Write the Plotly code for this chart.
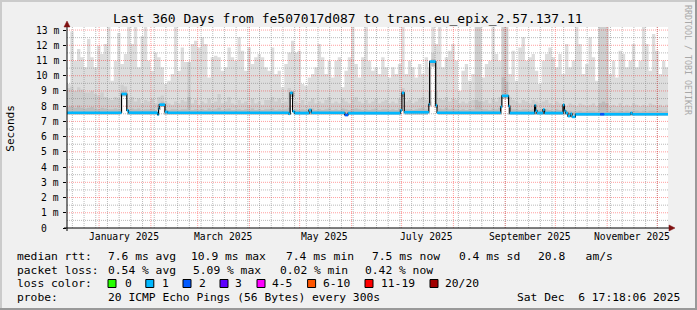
import plotly.graph_objects as go
import pandas as pd

# ---------------- data ----------------
SERIES_START = "2024-12-12 19:12"   # first smoke bin
BIN_DAYS = 2                        # width of one smoke bin
SERIES_END = "2025-12-07 09:36"     # end of the time axis

# upper envelope of all pings (ms) per 2-day bin (values above the axis top are clipped)
smoke_max = [
    9.45, 12.9, 10.99, 11.75, 11.21, 10.55, 12.41, 11.21, 10.55, 11.97,
    11.42, 12.08, 14, 9.67, 10.99, 12.8, 10.77, 11.42, 14, 12.08,
    14, 10.55, 12.6, 14, 10.99, 10.33, 11.53, 11.21, 10.55, 9.45,
    9.67, 10.11, 14, 10.33, 11.86, 10.90, 10.90, 12.08, 12.30, 11.86,
    12.52, 12.08, 9.89, 11.21, 11.32, 11.21, 10.33, 10.55, 11.86, 11.21,
    10.99, 12.52, 11.64, 10.33, 11.86, 10.77, 11.21, 11.42, 11.21, 10.55,
    10.33, 11.86, 10.11, 10.33, 9.24, 10.77, 11.53, 12.30, 11.53, 11.64,
    9.45, 9.35, 9.89, 10.11, 10.55, 12.08, 11.21, 10.11, 10.99, 9.89,
    10.99, 11.21, 9.24, 10.33, 11.21, 14, 10.77, 9.89, 11.21, 14,
    10.99, 10.33, 10.55, 10.11, 11.21, 10.55, 9.89, 10.55, 10.11, 10.77,
    14, 10.11, 10.99, 10.55, 9.89, 10.77, 10.11, 11.21, 10.55, 14,
    12.08, 14, 10.55, 11.21, 11.64, 12.08, 10.99, 9.02, 10.33, 10.77,
    9.67, 10.11, 14, 14, 9.89, 10.77, 10.99, 14, 11.42, 10.99,
    14, 14, 10.11, 11.64, 9.67, 11.86, 12.52, 10.99, 11.21, 11.42,
    10.33, 9.45, 10.99, 11.42, 11.86, 11.21, 10.55, 11.42, 10.11, 12.08,
    10.55, 10.99, 14, 12.08, 10.11, 10.77, 12.52, 11.21, 9.67, 14,
    14, 14, 10.11, 10.99, 9.89, 11.64, 11.42, 10.55, 10.99, 12.08,
    10.55, 10.99, 14, 12.08, 10.33, 12.74, 11.64, 10.11, 10.99, 10.55,
]

# denser part of the smoke (ms)
smoke_mid = [
    9.2, 9.3, 9.0, 9.25, 9.1, 8.9, 8.9, 9.0, 8.8, 8.7,
    8.9, 8.6, 8.5, 8.4, 8.6, 8.5, 9.4, 9.3, 8.4, 8.6,
    8.3, 8.5, 8.2, 8.4, 8.3, 8.5, 8.2, 8.6, 8.7, 8.3,
    8.2, 8.1, 8.3, 8.2, 8.4, 8.3, 10.9, 8.2, 8.4, 8.1,
    8.3, 8.2, 8.5, 8.2, 8.3, 8.8, 8.2, 8.3, 8.6, 8.2,
    8.1, 8.4, 8.2, 8.3, 8.1, 8.5, 8.2, 8.3, 8.1, 8.4,
    8.4, 8.6, 8.3, 8.5, 8.2, 8.3, 9.2, 9.0, 8.3, 8.2,
    8.4, 8.1, 8.3, 8.5, 8.2, 8.3, 8.2, 8.4, 8.6, 8.2,
    8.3, 8.2, 8.5, 8.3, 8.2, 8.4, 8.6, 8.3, 8.2, 8.4,
    8.2, 8.3, 8.5, 8.2, 8.3, 8.4, 8.2, 8.3, 8.2, 8.5,
    9.2, 8.3, 8.4, 8.2, 8.3, 8.5, 8.6, 8.4, 9.0, 11.5,
    9.0, 8.5, 8.4, 8.6, 8.3, 8.5, 8.4, 8.2, 8.3, 8.2,
    8.3, 8.4, 13.5, 13.5, 8.3, 8.4, 8.2, 8.5, 8.3, 8.6,
    13.5, 13.5, 8.6, 8.4, 8.3, 8.2, 8.4, 8.3, 8.2, 8.4,
    8.3, 8.2, 8.3, 8.4, 8.2, 8.1, 8.3, 8.2, 8.1, 8.0,
    8.2, 8.1, 8.0, 8.2, 8.1, 8.0, 8.1, 8.2, 8.0, 13.5,
    13.5, 13.5, 8.0, 8.1, 8.0, 8.2, 8.0, 8.1, 8.0, 8.2,
    8.1, 8.0, 8.1, 8.0, 8.2, 8.1, 8.0, 8.1, 8.0, 8.1,
]

# darkest smoke close to the median (ms)
smoke_low = [
    7.95, 8.0, 7.9, 8.05, 7.9, 7.85, 7.9, 7.95, 7.85, 7.8,
    7.9, 7.85, 7.8, 7.8, 7.85, 7.8, 9.0, 9.0, 7.8, 7.85,
    7.8, 7.85, 7.75, 7.8, 7.8, 7.85, 7.75, 8.1, 8.3, 7.8,
    7.75, 7.8, 7.8, 7.75, 7.8, 7.8, 8.6, 7.75, 7.8, 7.75,
    7.8, 7.75, 7.85, 7.75, 7.8, 7.9, 7.75, 7.8, 7.85, 7.75,
    7.75, 7.8, 7.75, 7.8, 7.75, 7.85, 7.75, 7.8, 7.75, 7.8,
    7.8, 7.85, 7.75, 7.8, 7.75, 7.8, 7.9, 9.0, 7.8, 7.75,
    7.8, 7.75, 7.8, 7.85, 7.75, 7.8, 7.75, 7.8, 7.85, 7.75,
    7.8, 7.75, 7.85, 7.8, 7.75, 7.8, 7.85, 7.8, 7.75, 7.8,
    7.75, 7.8, 7.85, 7.75, 7.8, 7.8, 7.75, 7.8, 7.75, 7.85,
    9.0, 7.8, 7.8, 7.75, 7.8, 7.85, 7.9, 7.8, 8.3, 11.1,
    8.2, 7.85, 7.8, 7.9, 7.8, 7.85, 7.8, 7.75, 7.8, 7.75,
    7.8, 7.8, 8.4, 8.3, 7.8, 7.8, 7.75, 7.85, 7.8, 7.9,
    9.9, 9.6, 7.9, 7.8, 7.8, 7.75, 7.8, 7.8, 7.75, 7.8,
    7.8, 7.75, 7.8, 7.8, 7.75, 7.7, 7.8, 7.75, 7.7, 7.65,
    7.7, 7.65, 7.65, 7.7, 7.65, 7.65, 7.7, 7.7, 7.65, 8.2,
    8.3, 8.2, 7.65, 7.7, 7.65, 7.7, 7.65, 7.7, 7.65, 7.7,
    7.7, 7.65, 7.7, 7.65, 7.7, 7.7, 7.65, 7.7, 7.65, 7.7,
]

# lowest ping (bottom of the smoke, ms)
smoke_floor = [
    7.45, 7.45, 7.45, 7.45, 7.45, 7.45, 7.45, 7.45, 7.45, 7.45,
    7.45, 7.45, 7.45, 7.45, 7.45, 7.45, 8.65, 8.65, 7.45, 7.45,
    7.45, 7.45, 7.45, 7.45, 7.45, 7.45, 7.45, 7.75, 7.95, 7.45,
    7.45, 7.45, 7.45, 7.45, 7.45, 7.45, 7.45, 7.45, 7.45, 7.45,
    7.45, 7.45, 7.45, 7.45, 7.45, 7.45, 7.45, 7.45, 7.45, 7.45,
    7.45, 7.45, 7.45, 7.45, 7.45, 7.45, 7.45, 7.45, 7.45, 7.45,
    7.45, 7.45, 7.45, 7.45, 7.45, 7.45, 7.45, 8.6, 7.45, 7.45,
    7.45, 7.45, 7.45, 7.45, 7.45, 7.45, 7.45, 7.45, 7.45, 7.45,
    7.45, 7.45, 7.45, 7.45, 7.45, 7.45, 7.45, 7.45, 7.45, 7.45,
    7.45, 7.45, 7.45, 7.45, 7.45, 7.45, 7.45, 7.45, 7.45, 7.45,
    8.6, 7.45, 7.45, 7.45, 7.45, 7.45, 7.45, 7.45, 8.0, 10.6,
    7.9, 7.45, 7.45, 7.45, 7.45, 7.45, 7.45, 7.45, 7.45, 7.45,
    7.45, 7.45, 7.45, 7.45, 7.45, 7.45, 7.45, 7.45, 7.45, 7.45,
    8.5, 8.5, 7.45, 7.45, 7.45, 7.45, 7.45, 7.45, 7.45, 7.45,
    7.45, 7.45, 7.45, 7.45, 7.45, 7.45, 7.45, 7.45, 7.45, 7.45,
    7.45, 7.45, 7.38, 7.38, 7.38, 7.38, 7.38, 7.38, 7.38, 7.38,
    7.38, 7.38, 7.38, 7.38, 7.38, 7.38, 7.38, 7.38, 7.38, 7.38,
    7.38, 7.38, 7.38, 7.38, 7.38, 7.38, 7.38, 7.38, 7.38, 7.38,
]

# median rtt as a step series: change times, values (ms), loss class
median_time = [
    "2024-12-12 19:12", "2025-01-14 10:00", "2025-01-17 14:00", "2025-01-18 14:00",
    "2025-02-05 00:00", "2025-02-05 14:00", "2025-02-06 00:00", "2025-02-09 10:00",
    "2025-02-11 00:00", "2025-04-24 12:00", "2025-04-25 07:00", "2025-04-26 19:00",
    "2025-04-28 00:00", "2025-05-06 14:00", "2025-05-08 00:00", "2025-05-28 00:00",
    "2025-05-30 00:00", "2025-06-30 07:00", "2025-07-01 05:00", "2025-07-02 14:00",
    "2025-07-17 07:00", "2025-07-17 19:00", "2025-07-21 10:00", "2025-07-22 05:00",
    "2025-08-29 07:00", "2025-08-30 00:00", "2025-09-03 00:00", "2025-09-03 19:00",
    "2025-09-18 14:00", "2025-09-19 05:00", "2025-09-20 00:00", "2025-09-23 14:00",
    "2025-09-24 14:00", "2025-10-05 14:00", "2025-10-06 10:00", "2025-10-07 05:00",
    "2025-10-08 12:00", "2025-10-10 00:00", "2025-10-11 00:00", "2025-10-13 00:00",
    "2025-10-27 19:00", "2025-10-30 05:00", "2025-11-15 00:00", "2025-11-16 00:00",
]
median_ms = [
    7.57, 8.80, 7.72, 7.57,
    7.45, 7.85, 8.10, 7.62,
    7.57, 7.50, 8.87, 7.65,
    7.55, 7.75, 7.57, 7.42,
    7.55, 7.72, 8.87, 7.60,
    8.12, 10.93, 8.05, 7.57,
    7.95, 8.68, 8.00, 7.55,
    8.05, 7.70, 7.55, 7.78,
    7.55, 8.08, 7.70, 7.55,
    7.35, 7.50, 7.30, 7.47,
    7.47, 7.47, 7.55, 7.47,
]
median_loss = [
    1, 1, 1, 1, 1, 1, 1, 1, 1, 1, 1, 1, 1, 1, 1, 2,
    1, 1, 1, 1, 1, 1, 1, 1, 1, 1, 1, 1, 1, 1, 1, 1,
    1, 1, 1, 1, 1, 1, 1, 1, 2, 1, 1, 1,
]

loss_labels = ["0", "1", "2", "3", "4-5", "6-10", "11-19", "20/20"]
loss_colors = ["#26ff00", "#00b8ff", "#0059ff", "#5e00ff", "#ff00ff", "#ff5500", "#ff0000", "#a10000"]

y_ticks = [0, 1, 2, 3, 4, 5, 6, 7, 8, 9, 10, 11, 12, 13]
y_ticktext = ["0\u00a0\u00a0", "1 m", "2 m", "3 m", "4 m", "5 m", "6 m", "7 m",
              "8 m", "9 m", "10 m", "11 m", "12 m", "13 m"]
x_label_months = ["2025-01-01", "2025-03-01", "2025-05-01", "2025-07-01", "2025-09-01", "2025-11-01"]
x_label_text = ["January 2025", "March 2025", "May 2025", "July 2025", "September 2025", "November 2025"]

title = "Last 360 Days from fe507017d087 to trans.eu_epix_2.57.137.11"
stat_rows = [
    [("median rtt:", 16.4), ("7.6 ms avg", 106.7), ("10.9 ms max", 190.2), ("7.4 ms min", 285.3),
     ("7.5 ms now", 371.0), ("0.4 ms sd", 457.8), ("20.8\u00a0\u00a0\u00a0am/s", 536.9)],
    [("packet loss:", 16.4), ("0.54 % avg", 106.7), ("5.09 % max", 192.0), ("0.02 % min", 279.0),
     ("0.42 % now", 364.4)],
    [("loss color:", 16.4)],
    [("probe:", 16.4), ("20 ICMP Echo Pings (56 Bytes) every 300s", 106.7)],
]
stamp = "Sat Dec \u00a06 17:18:06 2025"

# ---------------- layout constants (pixels) ----------------
W, H = 697, 310
PL, PR, PT, PB = 67, 668, 27, 228
Y_MAX = 13.2
FONT = "DejaVu Sans Mono"
row_y = [256.5, 270, 283.5, 297]
box_x = [108, 145.8, 183, 220, 257, 307.6, 365, 430]
lab_x = [123.6, 160.9, 197.8, 234.2, 271.1, 322.2, 380, 444.4]


def px(x):
    return (x - PL) / (PR - PL)


def py(y):
    return (PB - y) / (PB - PT)


start = pd.Timestamp(SERIES_START)
end = pd.Timestamp(SERIES_END)
n = len(smoke_max)
edges = [start + pd.Timedelta(days=BIN_DAYS * i) for i in range(n + 1)]

fig = go.Figure()

# smoke layers
for top, col in [(smoke_max, "#dddddd"), (smoke_mid, "#cecece"), (smoke_low, "#bcbcbc")]:
    xs, ys = [], []
    for i in range(n):
        xs += [edges[i], edges[i + 1]]
        ys += [top[i], top[i]]
    for i in reversed(range(n)):
        xs += [edges[i + 1], edges[i]]
        ys += [smoke_floor[i], smoke_floor[i]]
    fig.add_trace(go.Scatter(x=xs, y=ys, mode="lines", fill="toself", fillcolor=col,
                             line=dict(width=0), hoverinfo="skip", showlegend=False))

# grid (drawn over the smoke, as rrdtool does)
weeks = pd.date_range("2024-12-16", "2025-12-01", freq="7D")
months = pd.date_range("2025-01-01", "2025-12-01", freq="MS")
minor_y = [v + 0.5 for v in y_ticks]
major_y = y_ticks[1:]


def vlines(ts):
    xs, ys = [], []
    for t in ts:
        xs += [t, t, None]
        ys += [0, Y_MAX, None]
    return xs, ys


def hlines(vals):
    xs, ys = [], []
    for v in vals:
        xs += [start, end, None]
        ys += [v, v, None]
    return xs, ys


for (xs, ys), col in [(vlines(weeks), "rgba(130,130,130,0.55)"), (hlines(minor_y), "rgba(130,130,130,0.55)"),
                      (vlines(months), "rgba(255,0,0,0.38)"), (hlines(major_y), "rgba(255,0,0,0.38)")]:
    fig.add_trace(go.Scatter(x=xs, y=ys, mode="lines", line=dict(color=col, width=1, dash="1px,1px"),
                             hoverinfo="skip", showlegend=False))

# median line: thin black step line, thick loss-coloured horizontal segments
mt = [pd.Timestamp(t) for t in median_time] + [end]
fig.add_trace(go.Scatter(x=mt, y=median_ms + [median_ms[-1]], mode="lines", line_shape="hv",
                         line=dict(color="#000000", width=1.2), hoverinfo="skip", showlegend=False))
for cls in sorted(set(median_loss)):
    xs, ys = [], []
    for k, v in enumerate(median_ms):
        if median_loss[k] == cls:
            xs += [mt[k], mt[k + 1], None]
            ys += [v, v, None]
    fig.add_trace(go.Scatter(x=xs, y=ys, mode="lines", line=dict(color=loss_colors[cls], width=2.7),
                             hoverinfo="skip", showlegend=False))

ann = []
shapes = []

# y tick labels
for v, t in zip(y_ticks, y_ticktext):
    ann.append(dict(x=0, xref="paper", xshift=-7, xanchor="right", y=v, yref="y", yanchor="middle",
                    text=t, showarrow=False, borderpad=0, font=dict(family=FONT, size=9.7, color="#000")))
# x labels (centred mid-month)
for m, t in zip(x_label_months, x_label_text):
    ann.append(dict(x=pd.Timestamp(m) + pd.Timedelta(days=15), xref="x", xanchor="center",
                    y=py(237), yref="paper", yanchor="middle", text=t, showarrow=False, borderpad=0,
                    font=dict(family=FONT, size=9.7, color="#000")))
# title
ann.append(dict(x=px(347.5), xref="paper", xanchor="center", y=py(19), yref="paper", yanchor="middle",
                text=title, showarrow=False, borderpad=0, font=dict(family=FONT, size=13, color="#000")))
# y title
ann.append(dict(x=px(10.5), xref="paper", xanchor="center", y=py(128.3), yref="paper", yanchor="middle",
                text="Seconds", textangle=-90, showarrow=False, borderpad=0,
                font=dict(family=FONT, size=11.1, color="#000")))
# watermark
ann.append(dict(x=px(688), xref="paper", xanchor="center", y=py(60), yref="paper", yanchor="middle",
                text="RRDTOOL / TOBI OETIKER", textangle=90, showarrow=False, borderpad=0,
                font=dict(family=FONT, size=8.3, color="#a8a8a8")))
# legend rows
for r, items in enumerate(stat_rows):
    for t, xpos in items:
        ann.append(dict(x=px(xpos), xref="paper", xanchor="left", y=py(row_y[r]), yref="paper",
                        yanchor="middle", text=t, showarrow=False, borderpad=0,
                        font=dict(family=FONT, size=11.3, color="#000")))
ann.append(dict(x=px(680.5), xref="paper", xanchor="right", y=py(row_y[3]), yref="paper", yanchor="middle",
                text=stamp, showarrow=False, borderpad=0, font=dict(family=FONT, size=11.3, color="#000")))
for lbl, col, bx, lx in zip(loss_labels, loss_colors, box_x, lab_x):
    shapes.append(dict(type="rect", xref="paper", yref="paper", x0=px(bx), x1=px(bx + 8),
                       y0=py(row_y[2] - 4), y1=py(row_y[2] + 4), fillcolor=col,
                       line=dict(color="#000", width=1)))
    ann.append(dict(x=px(lx), xref="paper", xanchor="left", y=py(row_y[2]), yref="paper", yanchor="middle",
                    text=lbl, showarrow=False, borderpad=0, font=dict(family=FONT, size=11.3, color="#000")))

# axes with arrows
shapes.append(dict(type="line", xref="paper", yref="paper", x0=px(64), x1=px(669), y0=py(228), y1=py(228),
                   line=dict(color="#000", width=1), layer="above"))
shapes.append(dict(type="line", xref="paper", yref="paper", x0=px(67), x1=px(67), y0=py(231), y1=py(26),
                   line=dict(color="#000", width=1), layer="above"))
shapes.append(dict(type="path", xref="paper", yref="paper",
                   path=f"M{px(669)},{py(225)} L{px(675)},{py(228)} L{px(669)},{py(231)} Z",
                   fillcolor="#7f1010", line=dict(color="#7f1010", width=0.5), layer="above"))
shapes.append(dict(type="path", xref="paper", yref="paper",
                   path=f"M{px(64)},{py(27)} L{px(67)},{py(21)} L{px(70)},{py(27)} Z",
                   fillcolor="#7f1010", line=dict(color="#7f1010", width=0.5), layer="above"))
# 3d frame
shapes.append(dict(type="rect", xref="paper", yref="paper", x0=px(0), x1=px(697), y0=py(0), y1=py(2),
                   fillcolor="#cbcbcb", line=dict(width=0), layer="above"))
shapes.append(dict(type="rect", xref="paper", yref="paper", x0=px(0), x1=px(2), y0=py(0), y1=py(310),
                   fillcolor="#cbcbcb", line=dict(width=0), layer="above"))
shapes.append(dict(type="rect", xref="paper", yref="paper", x0=px(0), x1=px(697), y0=py(308), y1=py(310),
                   fillcolor="#999999", line=dict(width=0), layer="above"))
shapes.append(dict(type="rect", xref="paper", yref="paper", x0=px(695), x1=px(697), y0=py(0), y1=py(310),
                   fillcolor="#999999", line=dict(width=0), layer="above"))

fig.update_layout(
    width=W, height=H,
    margin=dict(l=PL, r=W - PR, t=PT, b=H - PB, pad=0),
    paper_bgcolor="#f0f0f0", plot_bgcolor="#ffffff",
    showlegend=False,
    xaxis=dict(type="date", range=[start, end], showgrid=False, zeroline=False, showticklabels=False,
               showline=False, ticks="", fixedrange=True),
    yaxis=dict(range=[0, Y_MAX], showgrid=False, zeroline=False, showticklabels=False, showline=False,
               tickvals=y_ticks, ticks="outside", ticklen=3, tickcolor="#000", tickwidth=1, fixedrange=True),
    annotations=ann,
    shapes=shapes,
)

fig.write_html("out.html")
